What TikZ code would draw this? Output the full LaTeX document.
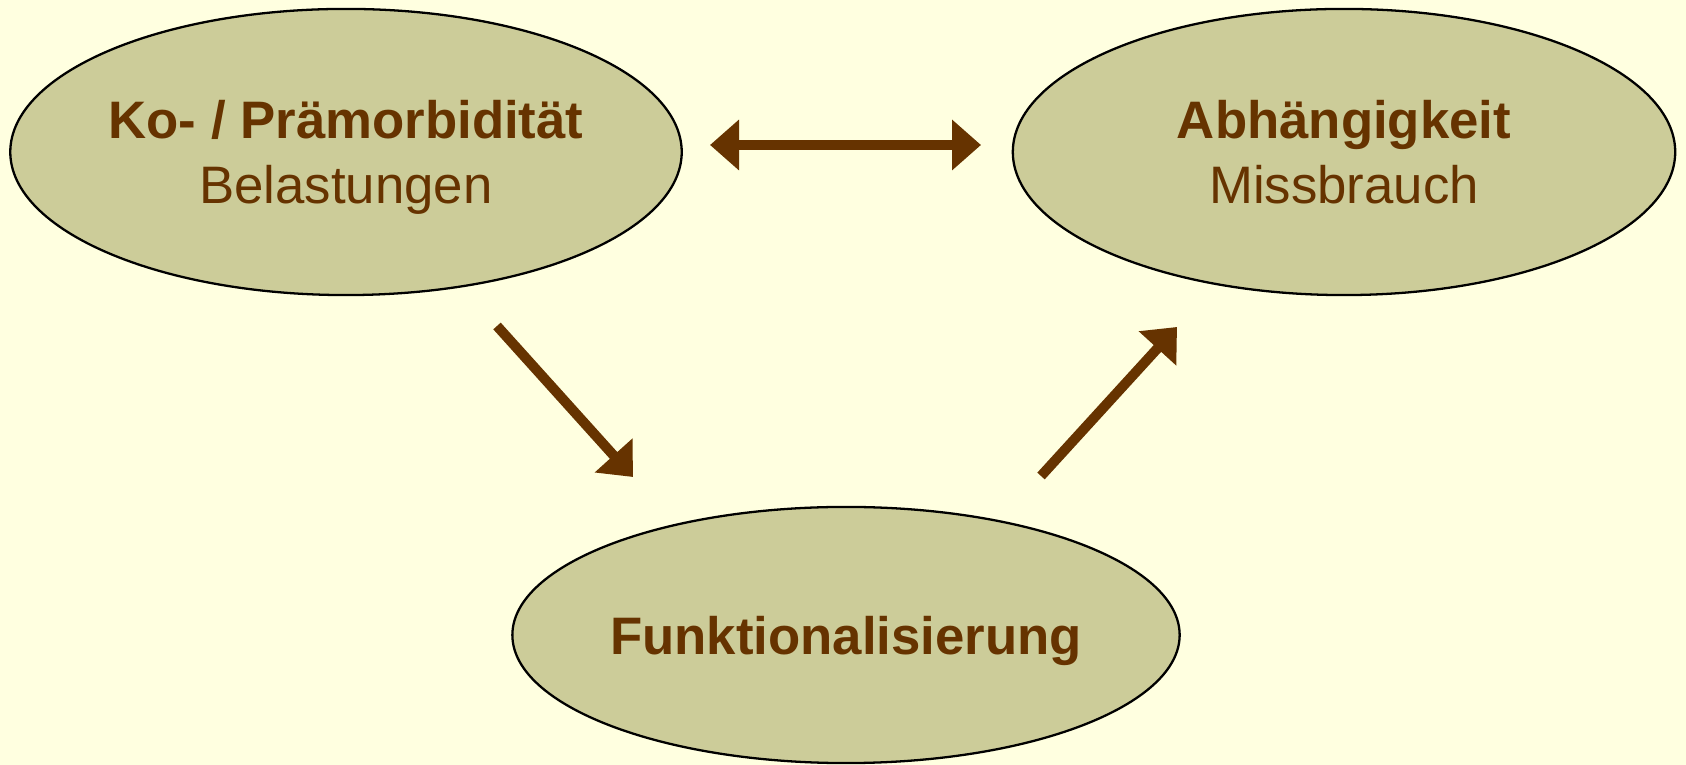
\documentclass[tikz,border=0pt]{standalone}
\usepackage{fontspec}
\setmainfont{Liberation Sans}
\usetikzlibrary{arrows.meta,shapes.geometric}
\definecolor{bgyellow}{HTML}{FFFFE0}
\definecolor{olivefill}{HTML}{CCCC99}
\definecolor{brownink}{HTML}{663300}

\begin{document}
\begin{tikzpicture}[x=0.01cm, y=-0.01cm]
	\tikzstyle{bubble} = [
		ellipse, draw=black, line width=0.65pt, fill=olivefill,
		text=brownink, align=center, inner sep=0pt, text depth=0pt,
		font=\fontsize{15}{18.3}\selectfont
	]
	\tikzstyle{bubble_big} = [
		bubble, minimum width=6.62cm, minimum height=2.86cm
	]
	\tikzstyle{bubble_small} = [
		bubble, minimum width=6.62cm, minimum height=2.56cm
	]
	\tikzstyle{conn} = [
		draw=brownink, line width=2.85pt,
		-{Triangle[length=0.29cm, width=0.49cm]}
	]
	\tikzstyle{biconn} = [
		conn, {Triangle[length=0.29cm, width=0.49cm]}-{Triangle[length=0.29cm, width=0.49cm]}
	]

	% Hintergrund
	\fill[bgyellow] (0,0) rectangle (1686,765);
	\useasboundingbox (0,0) rectangle (1686,765);

	% Ellipsen
	\node (Komorb) [bubble_big] at (346,152) {\textbf{Ko- / Prämorbidität}\\Belastungen};
	\node (Abh) [bubble_big] at (1344,152) {\textbf{Abhängigkeit}\\Missbrauch};
	\node (Funkt) [bubble_small] at (846,635) {\textbf{Funktionalisierung}};

	% Pfeilenden
	\coordinate (bi_l) at (710,145);
	\coordinate (bi_r) at (981,145);
	\coordinate (d1_start) at (497,326);
	\coordinate (d1_end) at (633,477);
	\coordinate (d2_start) at (1041,476);
	\coordinate (d2_end) at (1177,327);

	% Verbindungen
	\draw[biconn] (bi_l) -- (bi_r);
	\draw[conn] (d1_start) -- (d1_end);
	\draw[conn] (d2_start) -- (d2_end);
\end{tikzpicture}
\end{document}
